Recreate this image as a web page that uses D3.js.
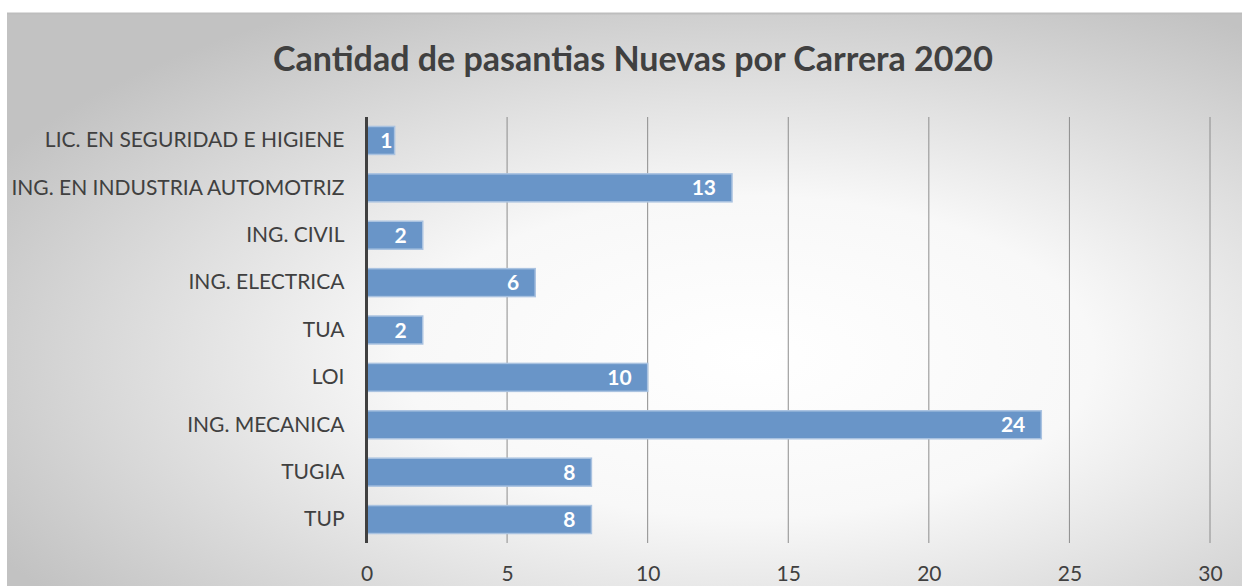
<!DOCTYPE html>
<html>
<head>
<meta charset="utf-8">
<script src="https://cdn.jsdelivr.net/npm/d3@7"></script>
<style>
  body { margin: 0; background: #fff; }
  svg { display: block; font-family: Lato, "Open Sans", sans-serif; }
</style>
</head>
<body>
<svg id="chart"></svg>
<script>
// data, top to bottom
let carreras = ["LIC. EN SEGURIDAD E HIGIENE", "ING. EN INDUSTRIA AUTOMOTRIZ", "ING. CIVIL",
                "ING. ELECTRICA", "TUA", "LOI", "ING. MECANICA", "TUGIA", "TUP"];
let pasantias = [1, 13, 2, 6, 2, 10, 24, 8, 8];
let xTicks = [0, 5, 10, 15, 20, 25, 30];
let titulo = "Cantidad de pasantias Nuevas por Carrera 2020";

let w = 1242, h = 586;
let svg = d3.select("#chart").attr("width", w).attr("height", h);

// background with radial shading like the office chart
let defs = svg.append("defs");
let grad = defs.append("radialGradient")
    .attr("id", "bg")
    .attr("cx", "60%").attr("cy", "60%").attr("r", "70%");
grad.append("stop").attr("offset", "0%").attr("stop-color", "#ffffff");
grad.append("stop").attr("offset", "40%").attr("stop-color", "#f8f8f8");
grad.append("stop").attr("offset", "100%").attr("stop-color", "#c2c2c2");

svg.append("rect")
    .attr("x", 7).attr("y", 13)
    .attr("width", w - 7).attr("height", h - 13)
    .attr("fill", "url(#bg)");
svg.append("line")
    .attr("x1", 7).attr("x2", w).attr("y1", 13.5).attr("y2", 13.5)
    .attr("stroke", "#bdbdbd").attr("stroke-width", 2);

let margin = {left: 366.5, right: 32, top: 117, bottom: 43};

let x = d3.scaleLinear()
    .domain([0, 30])
    .range([margin.left, w - margin.right]);

let y = d3.scaleBand()
    .domain(carreras)
    .range([margin.top, h - margin.bottom])
    .paddingInner(0.41)
    .paddingOuter(0.2);

svg.append("text")
    .attr("x", 633).attr("y", 71)
    .attr("text-anchor", "middle")
    .attr("font-size", 34)
    .attr("font-weight", "bold")
    .attr("fill", "#404040")
    .text(titulo);

// vertical gridlines
svg.append("g")
    .selectAll("line")
    .data(xTicks.slice(1))
    .enter()
    .append("line")
    .attr("x1", d => x(d)).attr("x2", d => x(d))
    .attr("y1", margin.top).attr("y2", h - margin.bottom)
    .attr("stroke", "#8c8c8c")
    .attr("stroke-width", 1);

// bottom axis, labels only
let xAxis = svg.append("g")
    .attr("transform", `translate(0,${h - margin.bottom})`)
    .call(d3.axisBottom(x).tickValues(xTicks).tickSize(0).tickPadding(23));
xAxis.select(".domain").remove();
xAxis.selectAll("text")
    .attr("font-size", 21)
    .attr("font-family", "Lato, 'Open Sans', sans-serif")
    .attr("fill", "#404040");

// bars
svg.append("g")
    .selectAll("rect")
    .data(pasantias)
    .enter()
    .append("rect")
    .attr("x", x(0))
    .attr("y", (d, i) => y(carreras[i]))
    .attr("width", d => x(d) - x(0))
    .attr("height", y.bandwidth())
    .attr("fill", "#6995c8")
    .attr("stroke", "#a9c2e0")
    .attr("stroke-width", 1.5);

// value labels inside bar ends (short bars keep the label right after the axis)
svg.append("g")
    .selectAll("text")
    .data(pasantias)
    .enter()
    .append("text")
    .attr("x", d => Math.max(x(d) - 16, x(0) + 26))
    .attr("y", (d, i) => y(carreras[i]) + y.bandwidth() / 2)
    .attr("dy", "0.36em")
    .attr("text-anchor", "end")
    .attr("font-size", 21)
    .attr("font-weight", "bold")
    .attr("fill", "#ffffff")
    .text(d => d);

// category labels
let yAxis = svg.append("g")
    .attr("transform", `translate(${margin.left},0)`)
    .call(d3.axisLeft(y).tickSize(0).tickPadding(22));
yAxis.select(".domain").remove();
yAxis.selectAll("text")
    .attr("font-size", 21)
    .attr("font-family", "Lato, 'Open Sans', sans-serif")
    .attr("fill", "#404040");

// zero axis line
svg.append("line")
    .attr("x1", x(0)).attr("x2", x(0))
    .attr("y1", margin.top).attr("y2", h - margin.bottom)
    .attr("stroke", "#404040")
    .attr("stroke-width", 3);
</script>
</body>
</html>
